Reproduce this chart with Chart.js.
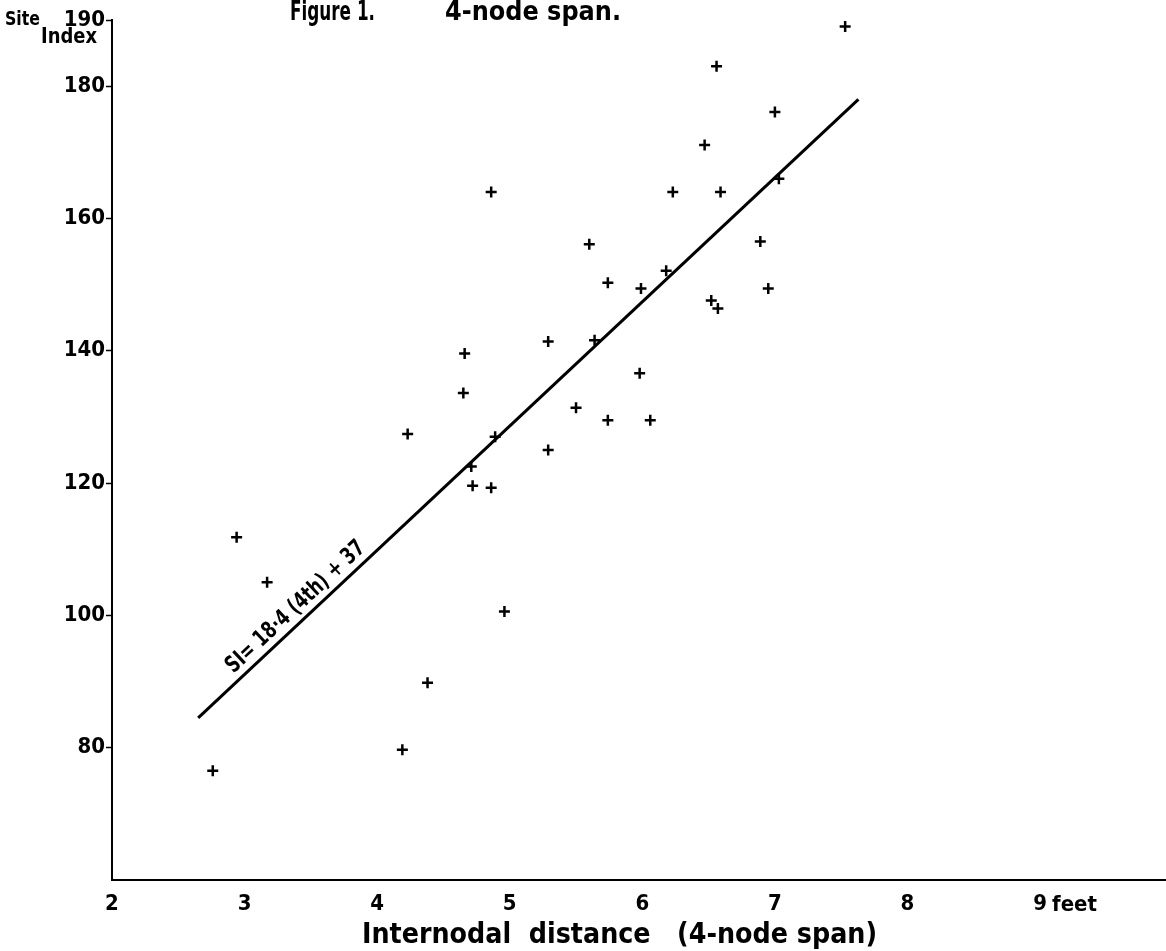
<!DOCTYPE html>
<html>
<head>
<meta charset="utf-8">
<title>Figure 1. 4-node span.</title>
<script src="https://cdn.jsdelivr.net/npm/chart.js@4.4.0/dist/chart.umd.min.js"></script>
<style>
    html, body { margin: 0; padding: 0; background: #fff; }
    #wrap { width: 1166px; height: 951px; }
</style>
</head>
<body>
<div id="wrap"><canvas id="chart" width="1166" height="951"></canvas></div>
<script>
    // internodal distance (feet) and site index
    var internode = [2.76, 2.94, 3.17, 4.19, 4.38, 4.23, 4.66, 4.65, 4.71, 4.72, 4.86, 4.89,
                     4.96, 5.29, 5.29, 5.50, 4.86, 5.60, 5.64, 5.74, 5.74, 5.98, 5.99, 6.06,
                     6.18, 6.23, 6.47, 6.52, 6.57, 6.56, 6.59, 6.89, 6.95, 7.00, 7.03, 7.53];
    var siteIndex = [76.5, 111.8, 105.0, 79.7, 89.8, 127.4, 139.6, 133.6, 122.5, 119.6, 119.3, 127.0,
                     100.6, 141.4, 125.0, 131.4, 164.0, 156.1, 141.6, 150.3, 129.5, 136.6, 149.4, 129.5,
                     152.1, 164.0, 171.1, 147.6, 146.4, 183.0, 164.0, 156.5, 149.4, 176.1, 166.0, 189.0];

    // fitted line SI = 18.4 (4th) + 37, end points as drawn
    var fitX = [2.65, 7.63];
    var fitY = [84.5, 178.0];

    var xTicks = [2, 3, 4, 5, 6, 7, 8, 9];
    var yTicks = [80, 100, 120, 140, 160, 180, 190];

    var FONT = '"DejaVu Sans Condensed", "DejaVu Sans", sans-serif';

    function toPoints(xs, ys) {
        return xs.map(function (x, i) { return { x: x, y: ys[i] }; });
    }

    // extra lettering: figure title, y label, "feet", equation on the line
    var lettering = {
        id: 'lettering',
        afterDraw: function (chart) {
            var ctx = chart.ctx;
            var xs = chart.scales.x, ys = chart.scales.y;
            ctx.save();
            ctx.fillStyle = '#000';
            ctx.textAlign = 'left';
            ctx.textBaseline = 'middle';

            ctx.font = 'bold 27px ' + FONT;
            ctx.fillText('Figure 1.', 290, 13, 85);
            ctx.fillText('4-node span.', 445, 13, 176);

            ctx.font = 'bold 19px ' + FONT;
            ctx.fillText('Site', 5, 20, 35);
            ctx.font = 'bold 21px ' + FONT;
            ctx.fillText('Index', 41, 38, 56);

            ctx.font = 'bold 22px ' + FONT;
            ctx.fillText('feet', xs.getPixelForValue(9) + 12, 905, 48);

            ctx.font = 'bold 29px ' + FONT;
            ctx.fillText('Internodal  distance   (4-node span)', 362, 935, 515);

            // equation written along the fitted line
            var p1x = xs.getPixelForValue(fitX[0]), p1y = ys.getPixelForValue(fitY[0]);
            var p2x = xs.getPixelForValue(fitX[1]), p2y = ys.getPixelForValue(fitY[1]);
            var ang = Math.atan2(p2y - p1y, p2x - p1x);
            ctx.translate(p1x, p1y);
            ctx.rotate(ang);
            ctx.font = 'bold 23px ' + FONT;
            ctx.textBaseline = 'alphabetic';
            ctx.fillText('SI= 18·4 (4th) + 37', 56, -8, 182);
            ctx.restore();
        }
    };

    new Chart(document.getElementById('chart').getContext('2d'), {
        type: 'scatter',
        data: {
            datasets: [
                {
                    label: 'Site index',
                    data: toPoints(internode, siteIndex),
                    pointStyle: 'cross',
                    pointRadius: 5.5,
                    borderWidth: 2.5,
                    borderColor: '#000',
                    backgroundColor: '#000'
                },
                {
                    label: 'Fit',
                    data: toPoints(fitX, fitY),
                    showLine: true,
                    pointRadius: 0,
                    borderWidth: 3,
                    borderColor: '#000'
                }
            ]
        },
        options: {
            responsive: false,
            animation: false,
            devicePixelRatio: 1,
            layout: { autoPadding: false, padding: { top: 20, right: 0, bottom: 0, left: 0 } },
            plugins: {
                legend: { display: false },
                tooltip: { enabled: false },
                title: { display: false }
            },
            scales: {
                x: {
                    type: 'linear',
                    min: 2,
                    max: 9.95,
                    afterBuildTicks: function (scale) {
                        scale.ticks = xTicks.map(function (v) { return { value: v }; });
                    },
                    afterFit: function (scale) { scale.height = 71; },
                    grid: { display: false, drawTicks: false },
                    border: { display: true, color: '#000', width: 2 },
                    ticks: {
                        autoSkip: false,
                        maxRotation: 0,
                        padding: 11,
                        color: '#000',
                        font: { family: FONT, size: 22, weight: 'bold' }
                    }
                },
                y: {
                    min: 60,
                    max: 190,
                    afterBuildTicks: function (scale) {
                        scale.ticks = yTicks.map(function (v) { return { value: v }; });
                    },
                    afterFit: function (scale) { scale.width = 112; },
                    grid: {
                        drawOnChartArea: false,
                        drawTicks: true,
                        tickLength: 6,
                        tickWidth: 1.5,
                        tickColor: '#000'
                    },
                    border: { display: true, color: '#000', width: 2 },
                    ticks: {
                        autoSkip: false,
                        padding: 1,
                        color: '#000',
                        font: { family: FONT, size: 22, weight: 'bold' }
                    }
                }
            }
        },
        plugins: [lettering]
    });
</script>
</body>
</html>
